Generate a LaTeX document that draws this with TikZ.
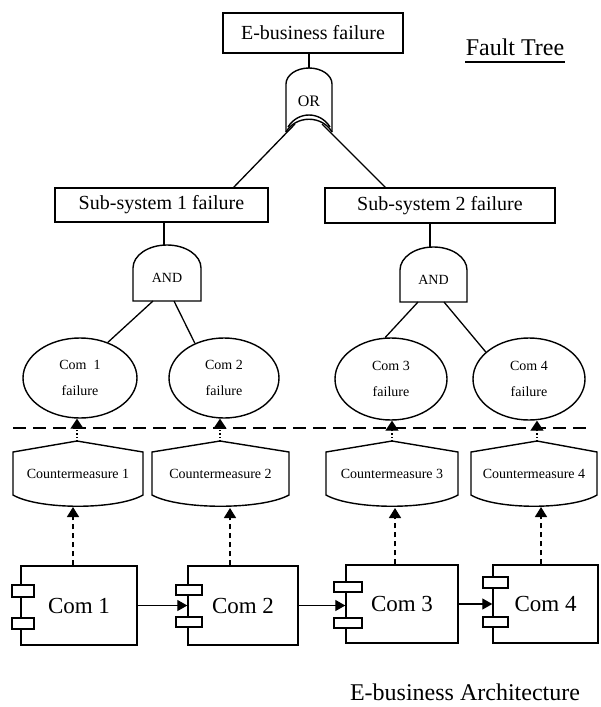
\documentclass[tikz,border=0pt]{standalone}
\usepackage{fontspec}
\setmainfont{Liberation Serif}
\usetikzlibrary{arrows.meta,shapes.geometric}
\begin{document}
\begin{tikzpicture}[x=1pt,y=-1pt, line width=1.4pt,
  evbox/.style={draw, rectangle, inner sep=0pt, font=\fontsize{20}{24}\selectfont},
  failev/.style={draw, ellipse, inner sep=0pt, align=center, font=\fontsize{14}{26}\selectfont},
  comp/.style={draw, rectangle, inner sep=0pt, font=\fontsize{23}{28}\selectfont},
  port/.style={draw, fill=white, line width=1.2pt},
  gatelbl/.style={inner sep=0pt, font=\fontsize{14}{16}\selectfont},
  cmlbl/.style={inner sep=0pt, font=\fontsize{14}{16}\selectfont},
  tie/.style={line width=1.3pt},
  flow/.style={-{Triangle[length=10pt,width=11pt]}, line width=1.3pt},
  guard/.style={dash pattern=on 5pt off 4pt, line width=1.5pt, -{Triangle[length=10pt,width=12pt]}},
  cover/.style={dotted, line width=1.2pt, -{Triangle[length=10pt,width=13pt]}},
  divider/.style={dash pattern=on 13pt off 7pt, line width=1.5pt},
  heading/.style={inner sep=0pt, font=\fontsize{24}{28}\selectfont}
]
\useasboundingbox (0,0) rectangle (600,707);

% ---------- fault tree ----------
\node[evbox, minimum width=180pt, minimum height=40pt] (top) at (313,33) {E-business failure};
\node[heading, anchor=base] (ft) at (515,55) {Fault Tree};
\draw[line width=1.5pt] ([yshift=-7pt]ft.base west) -- ([yshift=-7pt]ft.base east);

% OR gate
\draw (286,132) -- (286,84) .. controls (286,75.2) and (296.3,68) .. (309,68)
      .. controls (321.7,68) and (332,75.2) .. (332,84) -- (332,132);
\draw (286,132) .. controls (296,115) and (322,115) .. (332,132);
\draw (288,127) .. controls (298,111) and (320,111) .. (330,127);
\node[gatelbl, font=\fontsize{16}{18}\selectfont] (or) at (309,101) {OR};
\coordinate (orT) at (309,68);
\coordinate (orL) at (295,124);
\coordinate (orR) at (322,124);
\draw[tie] (top.south -| orT) -- (orT);

\node[evbox, minimum width=213pt, minimum height=34pt] (sub1) at (161.5,205) {Sub-system 1 failure};
\node[evbox, minimum width=230pt, minimum height=35pt] (sub2) at (440,205.5) {Sub-system 2 failure};
\coordinate (s1in) at (233,188);
\coordinate (s2in) at (386,188);
\draw[tie] (orL) -- (s1in);
\draw[tie] (orR) -- (s2in);

% AND gate 1
\draw (133,301) -- (133,268) .. controls (133,255.3) and (148.2,245) .. (167,245)
      .. controls (185.8,245) and (201,255.3) .. (201,268) -- (201,301) -- cycle;
\node[gatelbl] (and1) at (167,278) {AND};
\coordinate (a1T) at (164,245);
\coordinate (a1L) at (153,301);
\coordinate (a1R) at (174,301);
\draw[tie] (sub1.south -| a1T) -- (a1T);

% AND gate 2
\draw (400,302) -- (400,270) .. controls (400,257.3) and (415,247) .. (433.5,247)
      .. controls (452,247) and (467,257.3) .. (467,270) -- (467,302) -- cycle;
\node[gatelbl] (and2) at (433.5,280) {AND};
\coordinate (a2T) at (430,247);
\coordinate (a2L) at (418,302);
\coordinate (a2R) at (444,302);
\draw[tie] (sub2.south -| a2T) -- (a2T);

% basic failure events
\node[failev, minimum width=114pt, minimum height=80pt] (e1) at (80,378) {Com\ \ 1\\failure};
\node[failev, minimum width=110pt, minimum height=80pt] (e2) at (224,378) {Com 2\\failure};
\node[failev, minimum width=112pt, minimum height=82pt] (e3) at (391,379) {Com 3\\failure};
\node[failev, minimum width=112pt, minimum height=82pt] (e4) at (529,379) {Com 4\\failure};
\draw[tie] (a1L) -- (e1.52);
\draw[tie] (a1R) -- (e2.130);
\draw[tie] (a2L) -- (e3.98);
\draw[tie] (a2R) -- (e4.148);

% separator between the two views
\coordinate (divL) at (13,428);
\coordinate (divR) at (590,428);
\draw[divider] (divL) -- (divR);

% ---------- countermeasures ----------
% left x, right x, peak x, label, name
\foreach \xa/\xb/\xp/\n in {13/143/77/1, 152/289/220/2, 326/458/392/3, 471/597/537/4}{
  \pgfmathsetmacro{\w}{\xb-\xa}
  \draw (\xa,495) -- (\xa,452) -- (\xp,441) -- (\xb,452) -- (\xb,495)
        .. controls ({\xb-0.2*\w},510) and ({\xa+0.2*\w},510) .. (\xa,495) -- cycle;
  \coordinate (cm\n p) at (\xp,441);
  \node[cmlbl] (cm\n) at ({(\xa+\xb)/2},474) {Countermeasure \n};
}
\draw[cover] (cm1p) -- (cm1p |- e1.south);
\draw[cover] (cm2p) -- (cm2p |- e2.south);
\draw[cover] (cm3p) -- (cm3p |- e3.south);
\draw[cover] (cm4p) -- (cm4p |- e4.south);

% ---------- architecture ----------
\node[comp, minimum width=116pt, minimum height=79pt] (c1) at (79,605.5) {Com 1};
\node[comp, minimum width=110pt, minimum height=79pt] (c2) at (243,605.5) {Com 2};
\node[comp, minimum width=112pt, minimum height=78pt] (c3) at (402,604) {Com 3};
\node[comp, minimum width=105pt, minimum height=78pt] (c4) at (545.5,604) {Com 4};

\coordinate (cm1b) at (73,507);
\coordinate (cm2b) at (230,508);
\coordinate (cm3b) at (395,508);
\coordinate (cm4b) at (541,507);
\draw[guard] (c1.north -| cm1b) -- (cm1b);
\draw[guard] (c2.north -| cm2b) -- (cm2b);
\draw[guard] (c3.north -| cm3b) -- (cm3b);
\draw[guard] (c4.north -| cm4b) -- (cm4b);

\draw[flow] (c1.east) -- (c2.west);
\draw[flow] (c2.east) -- (c2.east -| c3.west);
\draw[flow] (c3.east) -- (c4.west);

% interface ports on the left side of each component
\draw[port] (12,585) rectangle (34,597);
\draw[port] (12,618) rectangle (34,629);
\draw[port] (176,585) rectangle (202,595);
\draw[port] (176,617) rectangle (202,627);
\draw[port] (334,582) rectangle (362,592);
\draw[port] (334,618) rectangle (362,628);
\draw[port] (483,577) rectangle (508,588);
\draw[port] (483,617) rectangle (508,627);

\node[heading] (arch) at (465,692) {E-business Architecture};
\end{tikzpicture}
\end{document}
